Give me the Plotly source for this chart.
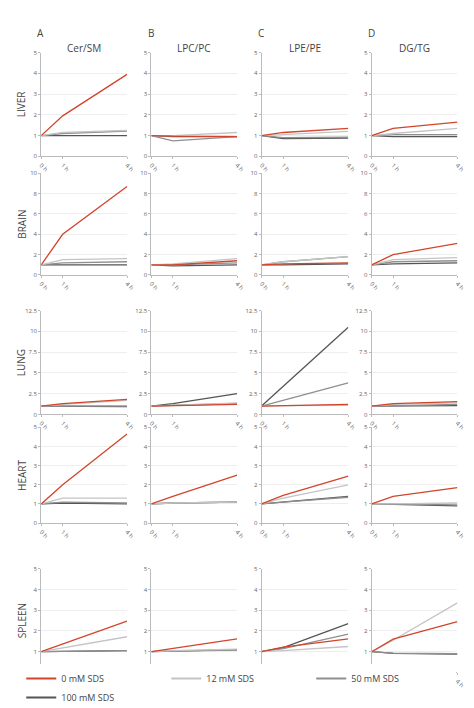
import plotly.graph_objects as go

times = [0, 1, 4]
time_labels = ["0 h", "1 h", "4 h"]
columns = ["Cer/SM", "LPC/PC", "LPE/PE", "DG/TG"]
letters = ["A", "B", "C", "D"]
organs = ["LIVER", "BRAIN", "LUNG", "HEART", "SPLEEN"]
series_names = ["0 mM SDS", "12 mM SDS", "50 mM SDS", "100 mM SDS"]
colors = ["#d2452b", "#c4c4c4", "#8f8f8f", "#555555"]
yranges = [5, 10, 12.5, 5, 5]
ydtick = [1, 2, 2.5, 1, 1]

# data[organ][column] = [0mM, 12mM, 50mM, 100mM]
liver = [
    [[1, 1.95, 3.95], [1, 1.15, 1.25], [1, 1.1, 1.22], [1, 1.0, 1.0]],
    [[1, 0.97, 0.95], [1, 1.0, 1.15], [1, 0.75, 0.95], [1, 0.95, 0.95]],
    [[1, 1.15, 1.35], [1, 1.05, 1.2], [1, 0.9, 0.92], [1, 0.85, 0.88]],
    [[1, 1.35, 1.65], [1, 1.1, 1.35], [1, 1.05, 1.05], [1, 0.95, 0.95]],
]
brain = [
    [[1, 4.0, 8.7], [1, 1.5, 1.6], [1, 1.2, 1.3], [1, 1.0, 1.0]],
    [[1, 1.0, 1.4], [1, 1.1, 1.6], [1, 1.0, 1.2], [1, 0.9, 1.0]],
    [[1, 1.1, 1.2], [1, 1.3, 1.8], [1, 1.3, 1.8], [1, 1.0, 1.1]],
    [[1, 2.0, 3.1], [1, 1.5, 1.7], [1, 1.3, 1.4], [1, 1.1, 1.2]],
]
lung = [
    [[1, 1.3, 1.8], [1, 1.2, 1.7], [1, 1.0, 1.0], [1, 1.0, 0.95]],
    [[1, 1.05, 1.2], [1, 1.1, 1.4], [1, 1.1, 1.3], [1, 1.3, 2.5]],
    [[1, 1.05, 1.2], [1, 1.05, 1.1], [1, 1.7, 3.8], [1, 3.4, 10.5]],
    [[1, 1.3, 1.55], [1, 1.2, 1.4], [1, 1.05, 1.2], [1, 1.0, 1.05]],
]
heart = [
    [[1, 2.0, 4.65], [1, 1.3, 1.3], [1, 1.1, 1.05], [1, 1.05, 1.0]],
    [[1, 1.4, 2.5], [1, 1.05, 1.1], [1, 1.05, 1.1], [1, 1.05, 1.1]],
    [[1, 1.45, 2.45], [1, 1.3, 2.0], [1, 1.1, 1.35], [1, 1.1, 1.4]],
    [[1, 1.4, 1.85], [1, 1.0, 1.05], [1, 1.0, 0.95], [1, 0.98, 0.9]],
]
spleen = [
    [[1, 1.37, 2.47], [1, 1.18, 1.72], [1, 1.02, 1.05], [1, 1.01, 1.05]],
    [[1, 1.15, 1.62], [1, 1.05, 1.12], [1, 1.03, 1.08], [1, 1.03, 1.1]],
    [[1, 1.22, 1.62], [1, 1.05, 1.25], [1, 1.15, 1.85], [1, 1.2, 2.35]],
    [[1, 1.6, 2.45], [1, 1.55, 3.35], [1, 0.93, 0.9], [1, 0.92, 0.88]],
]
data = [liver, brain, lung, heart, spleen]

W, H = 474, 708
col_px = [(30, 118), (143, 231), (256, 345), (369, 457)]
row_px = [(41, 146), (163, 266), (302, 407), (420, 517), (563, 668)]

fig = go.Figure()
layout = dict(width=W, height=H, margin=dict(l=0, r=0, t=0, b=0),
              plot_bgcolor="white", paper_bgcolor="white",
              font=dict(family="Open Sans", color="#444"),
              showlegend=True,
              legend=dict(orientation="h", x=0.02, y=0.0, yanchor="bottom",
                          font=dict(size=9, color="#444"), itemwidth=30,
                          entrywidth=100, entrywidthmode="pixels",
                          tracegroupgap=0),
              annotations=[])
idx = 0
for r, organ in enumerate(organs):
    for c in range(4):
        idx += 1
        xa = "x" if idx == 1 else f"x{idx}"
        ya = "y" if idx == 1 else f"y{idx}"
        for s in range(3, -1, -1):
            fig.add_trace(go.Scatter(
                x=times, y=data[r][c][s], mode="lines", xaxis=xa, yaxis=ya,
                line=dict(color=colors[s], width=1.3),
                name=series_names[s], showlegend=False, hoverinfo="skip"))
        x0, x1 = col_px[c]
        y0, y1 = row_px[r]
        key = "" if idx == 1 else str(idx)
        layout["xaxis" + key] = dict(
            domain=[x0 / W, x1 / W], anchor=ya,
            range=[0, 4], tickvals=times, ticktext=time_labels, tickangle=45,
            tickfont=dict(size=6, color="#666"), showline=True,
            linecolor="#bbb", ticks="outside", ticklen=2, tickcolor="#bbb",
            showgrid=False, zeroline=False, fixedrange=True)
        layout["yaxis" + key] = dict(
            domain=[1 - y1 / H, 1 - y0 / H], anchor=xa,
            range=[0, yranges[r]], dtick=ydtick[r],
            tickfont=dict(size=6, color="#666"), showline=True,
            linecolor="#bbb", ticks="outside", ticklen=2, tickcolor="#bbb",
            showgrid=True, gridcolor="#eeeeee", zeroline=False, fixedrange=True)
        if r == 0:
            layout["annotations"].append(dict(
                x=(x0 - 6) / W, y=1 - 12 / H, xref="paper", yref="paper",
                text=letters[c], showarrow=False, xanchor="left",
                font=dict(size=10, color="#444")))
            layout["annotations"].append(dict(
                x=(x0 + x1) / 2 / W, y=1 - 27 / H, xref="paper", yref="paper",
                text=columns[c], showarrow=False, xanchor="center",
                font=dict(size=10, color="#444")))
    layout["annotations"].append(dict(
        x=10 / W, y=1 - (row_px[r][0] + row_px[r][1]) / 2 / H,
        xref="paper", yref="paper", text=organ, textangle=-90,
        xanchor="center", yanchor="middle",
        showarrow=False, font=dict(size=10, color="#444")))

for s in range(4):
    fig.add_trace(go.Scatter(x=[None], y=[None], mode="lines",
                             line=dict(color=colors[s], width=2),
                             name=series_names[s], showlegend=True))
fig.update_layout(**layout)
fig.write_html("out.html")
